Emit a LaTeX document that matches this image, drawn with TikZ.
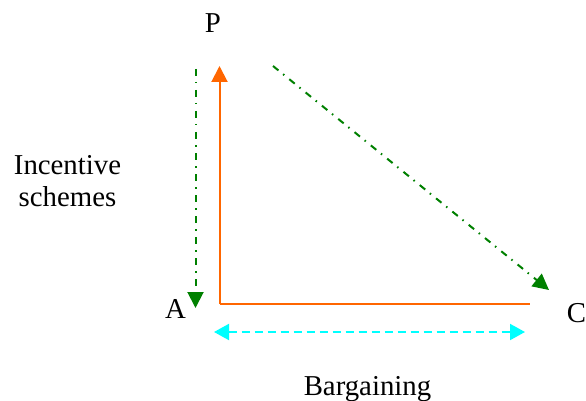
\documentclass[tikz,border=0pt]{standalone}
\usepackage{fontspec}
\setmainfont{Liberation Serif}
\usetikzlibrary{arrows.meta}
\definecolor{orangeL}{RGB}{255,102,0}
\definecolor{greenL}{RGB}{0,128,0}
\definecolor{cyanL}{RGB}{0,255,255}
\tikzset{
  lbl/.style={inner sep=0pt, font=\fontsize{28.8}{32}\selectfont},
  orangearrow/.style={draw=orangeL, line width=2pt, -{Triangle[length=16pt,width=16pt]}},
  orangeline/.style={draw=orangeL, line width=2pt},
  greenarrow/.style={draw=greenL, line width=2pt, dash pattern=on 7pt off 6pt on 1.5pt off 6.5pt, -{Triangle[length=16pt,width=16pt]}},
  cyanarrow/.style={draw=cyanL, line width=2pt, dash pattern=on 8pt off 5pt, {Triangle[length=15pt,width=16pt]}-{Triangle[length=15pt,width=16pt]}}
}
\begin{document}
\begin{tikzpicture}[x=1pt,y=-1pt]
\useasboundingbox (0,0) rectangle (586,401);
% labels
\node[lbl, anchor=base] (P) at (213,33) {P};
\node[lbl, anchor=base] (A) at (175.5,318) {A};
\node[lbl, anchor=base] (C) at (576.5,322) {C};
\node[lbl, align=center] (inc) at (67.5,181) {Incentive\\schemes};
\node[lbl, anchor=base] (barg) at (367.5,395) {Bargaining};
% coordinates
\coordinate (corner) at (219.5,304);
\coordinate (otop) at (219.5,66);
\coordinate (oright) at (530,304);
\coordinate (gvtop) at (195.5,69);
\coordinate (gvbot) at (195.5,308);
\coordinate (gdstart) at (273,66);
\coordinate (gdend) at (549,290);
\coordinate (cleft) at (214,332);
\coordinate (cright) at (525,332);
% connectors
\draw[orangearrow] (corner) -- (otop);
\draw[orangeline] (corner) -- (oright);
\draw[greenarrow] (gvtop) -- (gvbot);
\draw[greenarrow] (gdstart) -- (gdend);
\draw[cyanarrow] (cleft) -- (cright);
\end{tikzpicture}
\end{document}
